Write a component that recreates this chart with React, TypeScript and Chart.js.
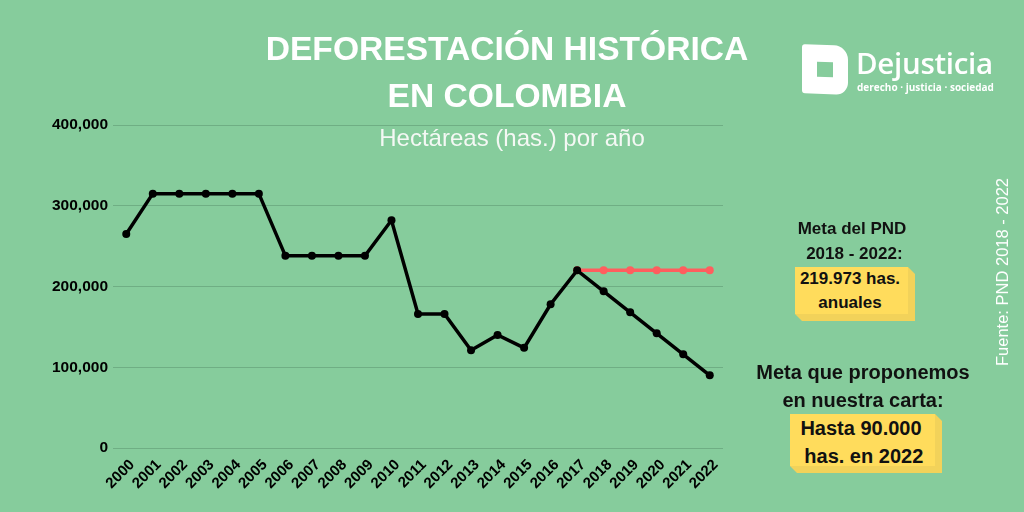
import React, { useEffect, useRef } from "react";
import { Chart, registerables } from "chart.js";

Chart.register(...registerables);

const years = [
  "2000", "2001", "2002", "2003", "2004", "2005", "2006", "2007", "2008", "2009",
  "2010", "2011", "2012", "2013", "2014", "2015", "2016", "2017", "2018", "2019",
  "2020", "2021", "2022",
];
const historical = [
  265000, 315000, 315000, 315000, 315000, 315000, 238000, 238000, 238000, 238000,
  282000, 166000, 166000, 121000, 140000, 124000, 178000, 219973, 194000, 168000,
  142000, 116000, 90000,
];
const pndGoal = [
  null, null, null, null, null, null, null, null, null, null,
  null, null, null, null, null, null, null, 219973, 219973, 219973,
  219973, 219973, 219973,
];
const yTicks = [0, 100000, 200000, 300000, 400000];

const BG = "#86cc9c";
const FONT = "'Liberation Sans', Arial, sans-serif";

function Note({ left, top, width, height, children, fontSize }: any) {
  return (
    <div
      style={{
        position: "absolute",
        left,
        top,
        width,
        height,
        background: "#f2d25a",
        clipPath: `polygon(0 0, ${width - 7}px 0, ${width}px 7px, ${width}px ${height}px, 7px ${height}px, 0 ${height - 7}px)`,
      }}
    >
      <div
        style={{
          position: "absolute",
          left: 0,
          top: 0,
          width: width - 7,
          height: height - 7,
          background: "#ffdc5c",
        }}
      />
      <div
        style={{
          position: "absolute",
          left: -20,
          top: 0,
          width: width + 30,
          textAlign: "center",
          fontWeight: 700,
          fontSize,
          lineHeight: fontSize === 20 ? "28px" : "24px",
          color: "#111",
        }}
      >
        {children}
      </div>
    </div>
  );
}

export default function App() {
  const ref = useRef<HTMLCanvasElement>(null);

  useEffect(() => {
    if (!ref.current) return;
    const chart = new Chart(ref.current, {
      type: "line",
      data: {
        labels: years,
        datasets: [
          {
            label: "Histórico",
            data: historical,
            borderColor: "#000",
            backgroundColor: "#000",
            borderWidth: 3.5,
            pointRadius: 4,
            pointBackgroundColor: "#000",
            pointBorderWidth: 0,
            tension: 0,
          },
          {
            label: "Meta PND",
            data: pndGoal as any,
            borderColor: "#ff5e5e",
            backgroundColor: "#ff5e5e",
            borderWidth: 3.5,
            pointRadius: 4,
            pointBackgroundColor: "#ff5e5e",
            pointBorderWidth: 0,
            tension: 0,
            spanGaps: false,
          },
        ],
      },
      options: {
        animation: false,
        responsive: false,
        maintainAspectRatio: false,
        layout: { padding: { left: 0, right: 301, top: 125, bottom: 0 } },
        plugins: { legend: { display: false }, tooltip: { enabled: false } },
        scales: {
          x: {
            offset: true,
            grid: { display: false },
            border: { display: false },
            ticks: {
              color: "#000",
              font: { family: FONT, size: 15, weight: "bold" },
              minRotation: 45,
              maxRotation: 45,
              autoSkip: false,
              padding: 0,
              labelOffset: 6,
            },
            afterFit: (s: any) => {
              s.height = 64;
            },
          },
          y: {
            min: 0,
            max: 400000,
            afterBuildTicks: (s: any) => {
              s.ticks = yTicks.map((v) => ({ value: v }));
            },
            grid: { color: "#6fae84", lineWidth: 1, drawTicks: false },
            border: { display: false },
            ticks: {
              color: "#000",
              padding: 5,
              font: { family: FONT, size: 15.5, weight: "bold" },
              callback: (v: any) => Number(v).toLocaleString("en-US"),
            },
            afterFit: (s: any) => {
              s.width = 113;
            },
          },
        },
      },
    });
    return () => chart.destroy();
  }, []);

  return (
    <div
      style={{
        position: "fixed",
        left: 0,
        top: 0,
        width: 1024,
        height: 512,
        background: BG,
        overflow: "hidden",
        fontFamily: FONT,
      }}
    >
      <canvas
        ref={ref}
        width={1024}
        height={512}
        style={{ position: "absolute", left: 0, top: 0, width: 1024, height: 512 }}
      />
      {/* Title */}
      <div
        style={{
          position: "absolute",
          left: 207,
          top: 25,
          width: 600,
          textAlign: "center",
          color: "#fff",
          fontWeight: 700,
          fontSize: 33.6,
          lineHeight: "47px",
        }}
      >
        DEFORESTACIÓN HISTÓRICA
        <br />
        EN COLOMBIA
      </div>
      <div
        style={{
          position: "absolute",
          left: 312,
          top: 124,
          width: 400,
          textAlign: "center",
          color: "#f4f8f4",
          fontSize: 24,
          lineHeight: "28px",
        }}
      >
        Hectáreas (has.) por año
      </div>

      {/* Logo */}
      <div
        style={{
          position: "absolute",
          left: 802,
          top: 45,
          width: 46,
          height: 49,
          background: "#fff",
          borderRadius: "3px 14px 12px 3px",
          transform: "skewY(2deg)",
        }}
      >
        <div
          style={{
            position: "absolute",
            left: 15,
            top: 17,
            width: 16,
            height: 15,
            background: BG,
          }}
        />
      </div>
      <div
        style={{
          position: "absolute",
          left: 856,
          top: 46,
          color: "#fff",
          fontFamily: "'Open Sans', sans-serif",
          fontWeight: 600,
          fontSize: 29.5,
          lineHeight: "34px",
          letterSpacing: -0.3,
        }}
      >
        Dejusticia
      </div>
      <div
        style={{
          position: "absolute",
          left: 857,
          top: 80,
          color: "#fff",
          fontFamily: "'Open Sans', sans-serif",
          fontWeight: 700,
          fontSize: 10,
          lineHeight: "14px",
          whiteSpace: "nowrap",
        }}
      >
        derecho · justicia · sociedad
      </div>

      {/* Notes */}
      <div
        style={{
          position: "absolute",
          left: 752,
          top: 216,
          width: 200,
          textAlign: "center",
          fontWeight: 700,
          fontSize: 17,
          lineHeight: "25px",
          color: "#111",
        }}
      >
        Meta del PND
        <br />
        &nbsp;2018 - 2022:
      </div>
      <Note left={795} top={267} width={120} height={54} fontSize={17}>
        219.973 has.
        <br />
        anuales
      </Note>

      <div
        style={{
          position: "absolute",
          left: 743,
          top: 358,
          width: 240,
          textAlign: "center",
          fontWeight: 700,
          fontSize: 20,
          lineHeight: "28px",
          color: "#111",
        }}
      >
        Meta que proponemos
        <br />
        en nuestra carta:
      </div>
      <Note left={790} top={414} width={152} height={59} fontSize={20}>
        Hasta 90.000
        <br />
        &nbsp;has. en 2022
      </Note>

      {/* Source */}
      <div
        style={{
          position: "absolute",
          left: 1002,
          top: 272,
          transform: "translate(-50%, -50%) rotate(-90deg)",
          color: "#fff",
          fontSize: 16.5,
          whiteSpace: "nowrap",
          lineHeight: "18px",
        }}
      >
        Fuente: PND 2018 - 2022
      </div>
    </div>
  );
}
